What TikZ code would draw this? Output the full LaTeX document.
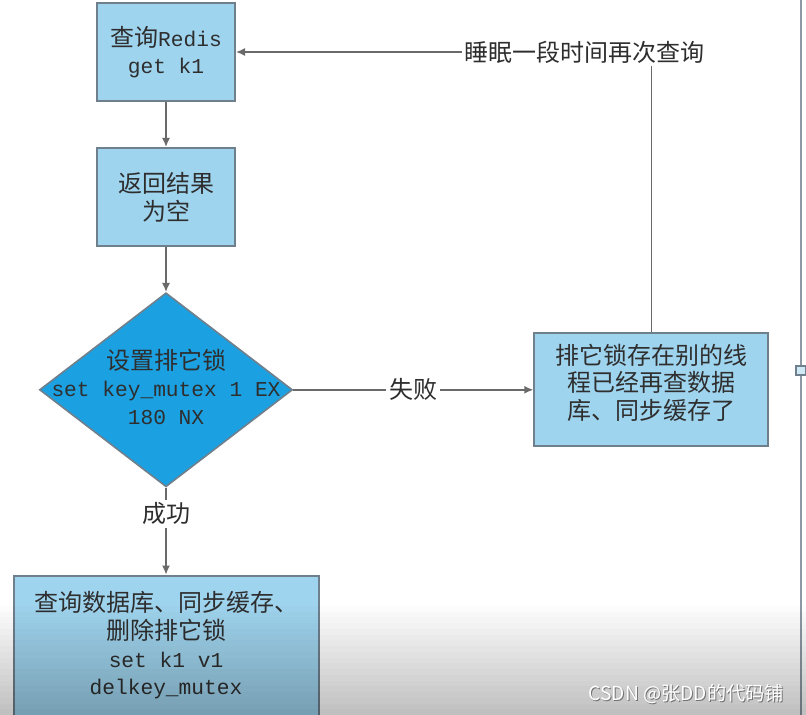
\documentclass[tikz,border=0pt]{standalone}
\usepackage{fontspec}
\setmainfont{Noto Sans CJK SC}
\setmonofont{Liberation Mono}
\usetikzlibrary{positioning,arrows.meta,shapes.geometric}
\definecolor{boxblue}{HTML}{9FD4EE}
\definecolor{lockblue}{HTML}{1BA1E2}
\definecolor{boxline}{HTML}{6F7F8C}
\definecolor{wireline}{HTML}{6A6A6A}
\definecolor{inkgray}{HTML}{2E2E2E}
\newcommand{\code}[1]{{\ttfamily\fontsize{10.6}{13.8}\selectfont #1}}

\begin{document}
\begin{tikzpicture}[x=0.5pt, y=-0.5pt,
  node distance=22.5pt and 120pt,
  stepbox/.style={rectangle, draw=boxline, fill=boxblue, line width=1pt, text=inkgray,
    font=\fontsize{12}{13.8}\selectfont, align=center, minimum width=69pt, minimum height=49pt, inner sep=2pt},
  lockbox/.style={diamond, draw=boxline, fill=lockblue, line width=0.8pt,
    minimum width=126.5pt, minimum height=97pt, inner sep=0pt},
  arr/.style={-{Latex[length=4.5pt,width=4pt]}, line width=0.75pt, color=wireline},
  tag/.style={fill=white, text=inkgray, font=\fontsize{12}{13.8}\selectfont, inner sep=1.5pt}
]
  \clip (0,0) rectangle (806,715);
  \fill[white] (0,0) rectangle (806,715);

  % flow down the left side
  \node[stepbox] (redis) at (166,52) {查询\code{Redis}\\\code{get k1}};
  \node[stepbox, below=of redis] (empty) {返回结果\\为空};
  \node[lockbox, below=of empty] (lock) {};
  \node[text=inkgray, align=center, font=\fontsize{12}{13.8}\selectfont] (locktext) at ([yshift=1.5pt]lock.center)
    {设置排它锁\\\code{set key\_mutex 1 EX}\\\code{180 NX}};
  \node[stepbox, minimum width=117pt, minimum height=56.5pt, text depth=8pt, right=of lock] (held)
    {排它锁存在别的线\\程已经再查数据\\库、同步缓存了};
  \node[stepbox, minimum width=152.5pt, minimum height=72.5pt, text depth=5pt, below=43.5pt of lock] (reload)
    {查询数据库、同步缓存、\\删除排它锁\\\code{set k1 v1}\\\code{delkey\_mutex}};

  \draw[arr] (redis) -- (empty);
  \draw[arr] (empty) -- (lock);
  \draw[arr] (lock) -- node[tag] {失败} (held);
  \draw[arr] (lock) -- node[tag, pos=0.3] {成功} (reload);
  \draw[arr] (held.north) |- node[tag, pos=0.58] {睡眠一段时间再次查询} (redis.east);

  % page edge of the screenshot
  \draw[boxline!80, line width=1pt] (801,0) -- (801,715);
  \draw[fill=boxblue!50, draw=boxline, line width=0.6pt] (796,366) rectangle (806,375);

  % darkening band at the bottom
  \foreach \i in {0,...,19}
    \fill[black, opacity=\i*0.013] (0,{600+\i*5.75}) rectangle (806,{605.9+\i*5.75});

  \node[anchor=east, text=black!55, font=\fontsize{9.6}{12}\selectfont] (markshade) at (792,695) {CSDN @张DD的代码铺};
  \node[anchor=east, text=white, font=\fontsize{9.6}{12}\selectfont] (mark) at (791,694) {CSDN @张DD的代码铺};
\end{tikzpicture}
\end{document}
